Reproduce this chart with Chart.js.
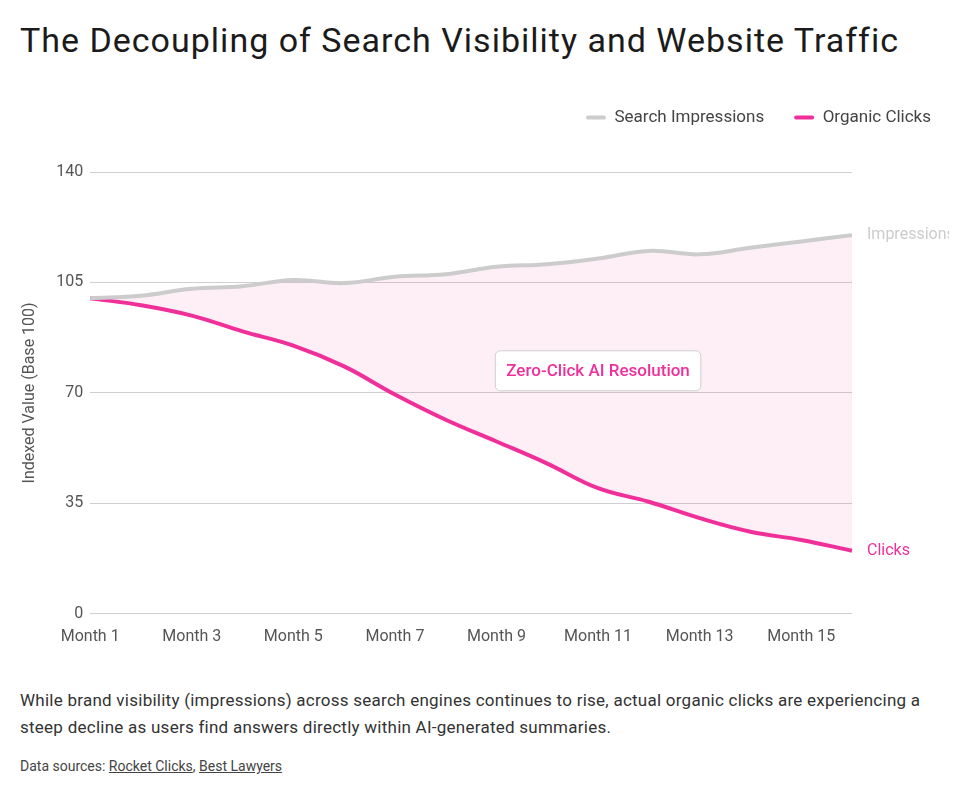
<!DOCTYPE html>
<html>
<head>
<meta charset="utf-8">
<script src="https://cdn.jsdelivr.net/npm/chart.js@4"></script>
<style>
  body { margin: 0; background: #fff; font-family: Roboto, 'Noto Sans', sans-serif; color: #222; }
  .wrap { width: 929px; padding: 0 20px; }
  h1 { font-weight: 400; font-size: 34px; margin: 0; padding-top: 20px; height: 59px; letter-spacing: 1px; color: #1b1b1b; }
  .box { position: relative; width: 929px; height: 582px; }
  p.note { font-size: 17px; line-height: 27px; color: #333; margin: 26px 0 0 0; letter-spacing: 0.25px; }
  p.src { font-size: 14px; color: #444; margin: 17px 0 0 0; }
  p.src a { color: #444; }
</style>
</head>
<body>
<div class="wrap">
  <h1>The Decoupling of Search Visibility and Website Traffic</h1>
  <div class="box"><canvas id="c"></canvas></div>
  <p class="note">While brand visibility (impressions) across search engines continues to rise, actual organic clicks are experiencing a steep decline as users find answers directly within AI-generated summaries.</p>
  <p class="src">Data sources: <a href="#">Rocket Clicks</a>, <a href="#">Best Lawyers</a></p>
</div>
<script>
const months = ['Month 1', 'Month 2', 'Month 3', 'Month 4', 'Month 5', 'Month 6', 'Month 7', 'Month 8',
  'Month 9', 'Month 10', 'Month 11', 'Month 12', 'Month 13', 'Month 14', 'Month 15', 'Month 16']
const impressions = [100, 100.8, 103, 103.8, 105.8, 104.8, 106.8, 107.6, 110, 110.8, 112.6, 115, 113.9, 116, 118, 120]
const clicks = [100, 97.8, 94.5, 89.5, 85, 78.4, 69.5, 61.5, 54.6, 47.6, 39.8, 35.5, 30.3, 26, 23.4, 20]
const yTicks = [0, 35, 70, 105, 140]

const PINK = '#f0309a'
const GREY = '#cccccc'
const FONT = 'Roboto, sans-serif'

// end-of-line labels + callout box
const overlays = {
  id: 'overlays',
  afterDatasetsDraw(chart) {
    const { ctx, scales: { x, y } } = chart
    ctx.save()
    ctx.font = '16px ' + FONT
    ctx.textBaseline = 'middle'
    ctx.textAlign = 'left'
    const last = months.length - 1
    ctx.fillStyle = GREY
    ctx.fillText('Impressions', x.getPixelForValue(last) + 15, y.getPixelForValue(impressions[last]))
    ctx.fillStyle = PINK
    ctx.fillText('Clicks', x.getPixelForValue(last) + 15, y.getPixelForValue(clicks[last]))

    // annotation
    const text = 'Zero-Click AI Resolution'
    ctx.font = '500 17px ' + FONT
    const cx = x.getPixelForValue(10)
    const cy = y.getPixelForValue(77)
    const w = ctx.measureText(text).width + 22
    const h = 40
    ctx.beginPath()
    ctx.roundRect(cx - w / 2, cy - h / 2, w, h, 5)
    ctx.fillStyle = '#fff'
    ctx.fill()
    ctx.strokeStyle = '#cfcfcf'
    ctx.lineWidth = 1
    ctx.stroke()
    ctx.fillStyle = PINK
    ctx.textAlign = 'center'
    ctx.fillText(text, cx, cy + 1)
    ctx.restore()
  }
}

// extra room between legend and plot, legend nudged to the right
const legendGap = {
  id: 'legendGap',
  beforeInit(chart) {
    const fit = chart.legend.fit
    chart.legend.fit = function () {
      fit.bind(chart.legend)()
      this.height += 36
    }
  },
  afterLayout(chart) {
    chart.legend.left += 12
    chart.legend.right += 12
  }
}

new Chart(document.getElementById('c'), {
  type: 'line',
  data: {
    labels: months,
    datasets: [
      {
        label: 'Search Impressions',
        data: impressions,
        borderColor: GREY,
        backgroundColor: 'rgba(240, 48, 154, 0.08)',
        borderWidth: 4,
        pointRadius: 0,
        tension: 0.4,
        fill: '+1',
      },
      {
        label: 'Organic Clicks',
        data: clicks,
        borderColor: PINK,
        backgroundColor: PINK,
        borderWidth: 4,
        pointRadius: 0,
        tension: 0.4,
        fill: false,
      },
    ],
  },
  options: {
    responsive: true,
    maintainAspectRatio: false,
    animation: false,
    plugins: {
      legend: {
        position: 'top',
        align: 'end',
        labels: {
          color: '#444',
          font: { family: FONT, size: 17 },
          boxWidth: 20,
          boxHeight: 4,
          padding: 30,
          useBorderRadius: true,
          borderRadius: 2,
          generateLabels: (chart) => chart.data.datasets.map((ds, i) => ({
            text: ds.label,
            fillStyle: ds.borderColor,
            strokeStyle: ds.borderColor,
            lineWidth: 0,
            borderRadius: 2,
            fontColor: '#444',
            datasetIndex: i,
          })),
        },
      },
      tooltip: { enabled: false },
    },
    scales: {
      x: {
        grid: { display: false, drawTicks: false },
        border: { display: false },
        ticks: {
          color: '#555',
          font: { family: FONT, size: 16 },
          maxRotation: 0,
          autoSkip: false,
          padding: 14,
          callback: (v, i) => (i % 2 === 0 ? months[i] : ''),
        },
      },
      y: {
        min: 0,
        max: 140,
        afterBuildTicks: (axis) => { axis.ticks = yTicks.map((v) => ({ value: v })) },
        grid: { color: '#cfcfcf', drawTicks: false },
        border: { display: false },
        ticks: {
          color: '#555',
          font: { family: FONT, size: 16 },
          padding: 7,
        },
        title: {
          display: true,
          text: 'Indexed Value (Base 100)',
          color: '#555',
          font: { family: FONT, size: 16 },
          padding: { top: 0, bottom: 10 },
        },
      },
      // empty right axis keeps room for the end labels
      yEnd: {
        type: 'linear',
        position: 'right',
        grid: { display: false, drawTicks: false },
        border: { display: false },
        ticks: { display: false },
        afterFit: (axis) => { axis.width = 97 },
      },
    },
  },
  plugins: [overlays, legendGap],
})
</script>
</body>
</html>
